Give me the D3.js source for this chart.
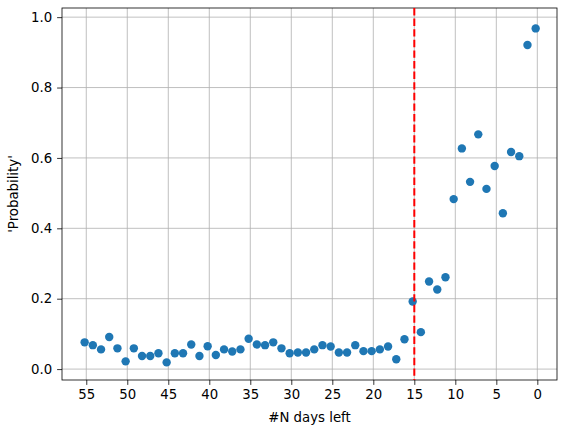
<!DOCTYPE html>
<html>
<head>
<meta charset="UTF-8">
<script src="https://d3js.org/d3.v7.min.js"></script>
<style>
  body { margin: 0; background: #fff; }
  text { font-family: "DejaVu Sans", sans-serif; }
</style>
</head>
<body>
<div id="chart"></div>
<script>
    // days left (slightly offset from integers, as in the picture)
    var daysLeft = d3.range(55, -1, -1).map(function (d) { return d + 0.2; });
    var probability = [
        0.076, 0.068, 0.056, 0.091, 0.059, 0.022, 0.059, 0.037, 0.037, 0.045,
        0.019, 0.045, 0.045, 0.070, 0.037, 0.065, 0.040, 0.056, 0.050, 0.056,
        0.086, 0.070, 0.068, 0.076, 0.059, 0.045, 0.047, 0.047, 0.056, 0.068,
        0.064, 0.047, 0.047, 0.068, 0.051, 0.051, 0.056, 0.064, 0.028, 0.085,
        0.192, 0.105, 0.249, 0.226, 0.261, 0.483, 0.627, 0.532, 0.667, 0.512,
        0.577, 0.443, 0.617, 0.605, 0.921, 0.968
    ];
    var xTicks = d3.range(0, 56, 5);
    var yTicks = [0, 0.2, 0.4, 0.6, 0.8, 1.0];
    var cutoff = 15;

    var W = 567, H = 432;
    var m = {left: 62, right: 10, top: 8, bottom: 52};

    var svg = d3.select("#chart").append("svg").attr("width", W).attr("height", H);

    var x = d3.scaleLinear().domain([57.96, -2.4]).range([m.left, W - m.right]);
    var y = d3.scaleLinear().domain([-0.031, 1.026]).range([H - m.bottom, m.top]);

    // grid
    svg.append("g").selectAll("line").data(xTicks).enter().append("line")
        .attr("x1", function (d) { return x(d); }).attr("x2", function (d) { return x(d); })
        .attr("y1", m.top).attr("y2", H - m.bottom)
        .attr("stroke", "#b0b0b0").attr("stroke-width", 0.8);
    svg.append("g").selectAll("line").data(yTicks).enter().append("line")
        .attr("y1", function (d) { return y(d); }).attr("y2", function (d) { return y(d); })
        .attr("x1", m.left).attr("x2", W - m.right)
        .attr("stroke", "#b0b0b0").attr("stroke-width", 0.8);

    // axes
    var xAxis = svg.append("g").attr("transform", "translate(0," + (H - m.bottom) + ")")
        .call(d3.axisBottom(x).tickValues(xTicks).tickSize(4.9).tickPadding(4.9).tickFormat(d3.format("d")));
    var yAxis = svg.append("g").attr("transform", "translate(" + m.left + ",0)")
        .call(d3.axisLeft(y).tickValues(yTicks).tickSize(4.9).tickPadding(4.9).tickFormat(d3.format(".1f")));
    [xAxis, yAxis].forEach(function (a) {
        a.select(".domain").remove();
        a.selectAll("text").attr("font-size", "13.3px").attr("fill", "#000")
            .attr("font-family", "DejaVu Sans, sans-serif");
        a.selectAll("line").attr("stroke", "#000").attr("stroke-width", 0.8);
    });

    svg.append("rect").attr("x", m.left).attr("y", m.top)
        .attr("width", W - m.left - m.right).attr("height", H - m.top - m.bottom)
        .attr("fill", "none").attr("stroke", "#000").attr("stroke-width", 0.8);

    // points
    svg.append("g").selectAll("circle").data(probability).enter().append("circle")
        .attr("cx", function (d, i) { return x(daysLeft[i]); })
        .attr("cy", function (d) { return y(d); })
        .attr("r", 4.2).attr("fill", "#1f77b4");

    // cutoff line
    svg.append("line").attr("x1", x(cutoff)).attr("x2", x(cutoff))
        .attr("y1", m.top).attr("y2", H - m.bottom)
        .attr("stroke", "red").attr("stroke-width", 2).attr("stroke-dasharray", "7.4,3.2");

    svg.append("text").attr("x", (m.left + W - m.right) / 2).attr("y", H - 10)
        .attr("text-anchor", "middle").attr("font-size", "13.3px").text("#N days left");
    svg.append("text").attr("transform", "translate(18," + ((m.top + H - m.bottom) / 2) + ") rotate(-90)")
        .attr("text-anchor", "middle").attr("font-size", "13.3px").text("'Probability'");
</script>
</body>
</html>
